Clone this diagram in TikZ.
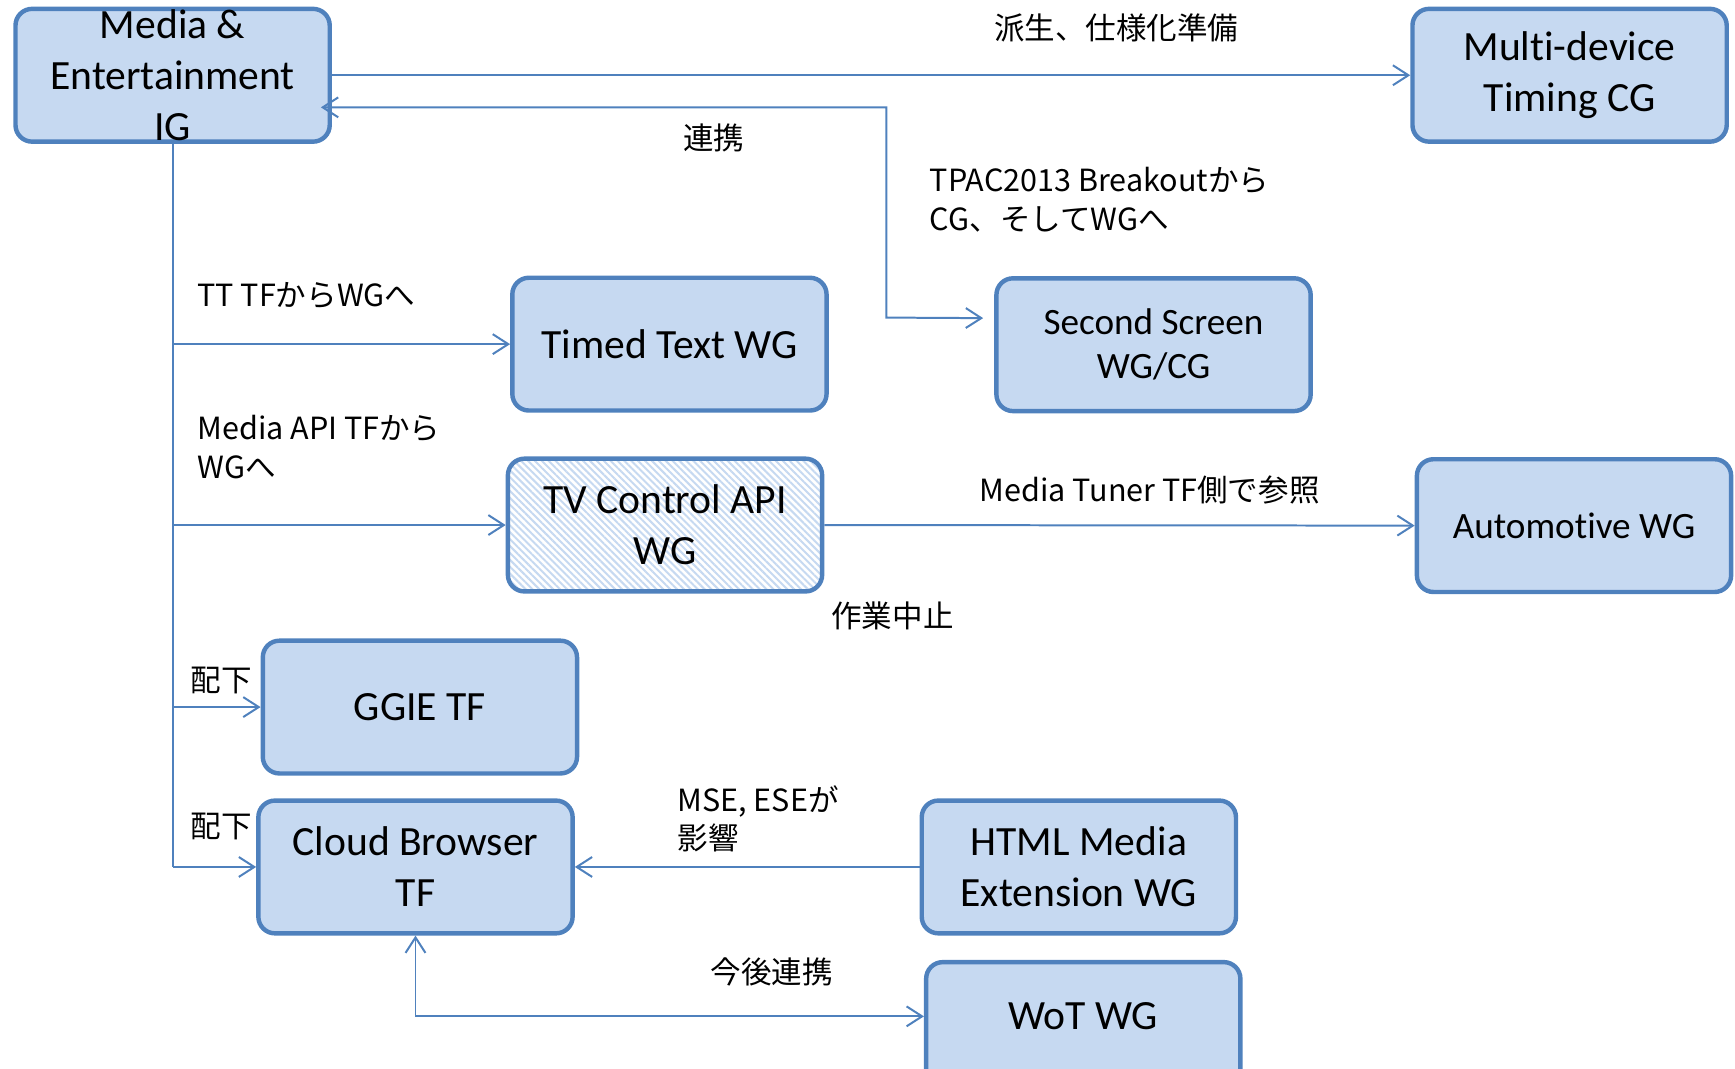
\documentclass[tikz,border=0pt]{standalone}
\usepackage{fontspec}
\setmainfont{Carlito}[Ligatures=NoCommon]
\newfontfamily\jp{Noto Sans CJK JP}
\usetikzlibrary{arrows.meta,patterns.meta}
\definecolor{boxfill}{HTML}{C6D9F1}
\definecolor{boxline}{HTML}{4F81BD}
\begin{document}
\begin{tikzpicture}[x=0.5pt,y=-0.5pt,
  box/.style={draw=boxline, line width=2pt, fill=boxfill, rounded corners=7.5pt,
    inner sep=0pt, align=center, font=\fontsize{18.8}{23}\selectfont,
    minimum width=142pt, minimum height=60pt},
  lbl/.style={font=\jp\fontsize{13.8}{17.5}\selectfont, inner sep=0pt, align=left, anchor=west},
  conn/.style={draw=boxline, line width=0.9pt},
  >={Straight Barb[length=7pt,width=9pt]}]
\clip (0,0) rectangle (1568,966);
% boxes
\node[box] (meig) at (156,68) {Media \&\\Entertainment\\IG};
\node[box] (mdt) at (1418.5,68) {Multi-device\\Timing CG};
\node[box] (tt) at (605,311) {Timed Text WG};
\node[box, font=\fontsize{16.8}{20}\selectfont] (ss) at (1042.5,311.5) {Second Screen\\WG/CG};
\node[box, fill=none, preaction={fill=white},
  preaction={pattern={Lines[angle=-45,distance=2.2pt,line width=0.9pt]}, pattern color=boxfill}]
  (tv) at (601,474.5) {TV Control API\\WG};
\node[box, font=\fontsize{16.8}{20}\selectfont] (auto) at (1422.5,475) {Automotive WG};
\node[box] (ggie) at (379.5,639) {GGIE TF};
\node[box] (cb) at (375.5,783.5) {Cloud Browser\\TF};
\node[box] (html) at (975,783.5) {HTML Media\\Extension WG};
\node[box] (wot) at (979,929.5) {\raisebox{11pt}{WoT WG}};
% helper coordinates
\coordinate (k1) at (801,97);
\coordinate (k2) at (801,287);
% connectors
\draw[conn,->] (meig.east) -- (mdt.west);
\draw[conn,<->] ([xshift=-5pt,yshift=-14.5pt]meig.east) -- (k1) -- (k2) -- ([xshift=-5pt,yshift=12pt]ss.west);
\draw[conn] (meig.south) -- (meig.south |- cb.west);
\draw[conn,->] (meig.south |- tt.west) -- (tt.west);
\draw[conn,->] (meig.south |- tv.west) -- (tv.west);
\draw[conn,->] (meig.south |- ggie.west) -- (ggie.west);
\draw[conn,->] (meig.south |- cb.west) -- (cb.west);
\draw[conn,->] (tv.east) -- (auto.west);
\draw[conn,->] (html.west) -- (cb.east);
\draw[conn,<->] (cb.south) |- ([yshift=5.5pt]wot.west);
% labels
\node[lbl] (l1) at (898,25) {派生、仕様化準備};
\node[lbl] (l2) at (617,125) {連携};
\node[lbl] (l3) at (840,180.5) {TPAC2013 Breakoutから\\CG、そしてWGへ};
\node[lbl] (l4) at (178,267) {TT TFからWGへ};
\node[lbl] (l5) at (178,404) {Media API TFから\\WGへ};
\node[lbl] (l6) at (885,443) {Media Tuner TF側で参照};
\node[lbl] (l7) at (751,557) {作業中止};
\node[lbl] (l8) at (172,615) {配下};
\node[lbl] (l9) at (172,747) {配下};
\node[lbl] (l10) at (612,740) {MSE, ESEが\\影響};
\node[lbl] (l11) at (642,878) {今後連携};
\end{tikzpicture}
\end{document}
